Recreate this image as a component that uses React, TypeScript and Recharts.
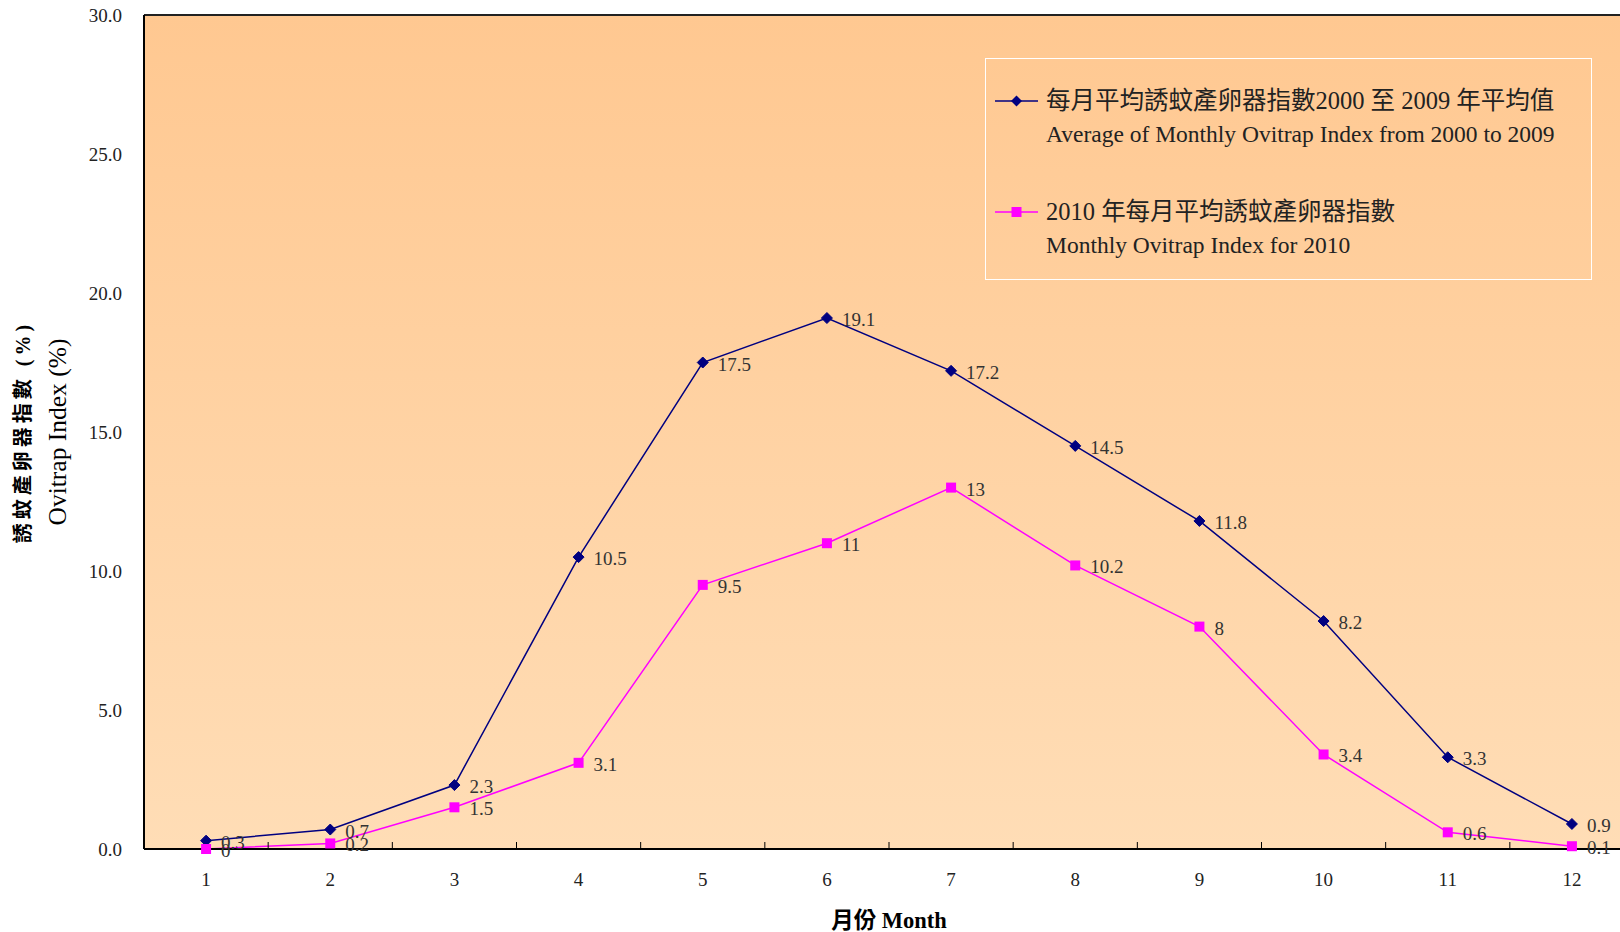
import React from 'react';
import { LineChart, Line, XAxis, YAxis, CartesianGrid, ReferenceLine, LabelList, Label } from 'recharts';

const months = [1, 2, 3, 4, 5, 6, 7, 8, 9, 10, 11, 12];
const avg2000to2009 = [0.3, 0.7, 2.3, 10.5, 17.5, 19.1, 17.2, 14.5, 11.8, 8.2, 3.3, 0.9];
const index2010 = [0, 0.2, 1.5, 3.1, 9.5, 11, 13, 10.2, 8, 3.4, 0.6, 0.1];
const yTicks = [0, 5, 10, 15, 20, 25, 30];
const monthBoundaries = [1.5, 2.5, 3.5, 4.5, 5.5, 6.5, 7.5, 8.5, 9.5, 10.5, 11.5, 12.5];
const seriesAvgZh = '每月平均誘蚊產卵器指數2000 至 2009 年平均值';
const seriesAvgEn = 'Average of Monthly Ovitrap Index from 2000 to 2009';
const series2010Zh = '2010 年每月平均誘蚊產卵器指數';
const series2010En = 'Monthly Ovitrap Index for 2010';
const yTitleZh = '誘蚊產卵器指數 (%)';
const yTitleEn = 'Ovitrap Index (%)';
const xTitle = '月份 Month';

const data = months.map((m, i) => ({ m, avg: avg2000to2009[i], y2010: index2010[i] }));
const xTicks = [...months, ...monthBoundaries].sort((a, b) => a - b);

const FONT = "'Liberation Serif', 'Noto Sans CJK TC', serif";
const NAVY = '#000080';
const MAGENTA = '#FF00FF';

const XTick = (props: any) => {
  const { x, y, payload } = props;
  const v = payload.value;
  if (Number.isInteger(v)) {
    return (
      <text x={x} y={y + 37} textAnchor="middle" fontFamily={FONT} fontSize={19} fill="#222">
        {v}
      </text>
    );
  }
  return <line x1={x} x2={x} y1={y} y2={y - 7} stroke="#000" strokeWidth={1} />;
};

const Diamond = (props: any) => {
  const { cx, cy, index } = props;
  if (cx == null || cy == null) return null;
  const r = 5.5;
  return (
    <polygon
      key={`d${index}`}
      points={`${cx},${cy - r} ${cx + r},${cy} ${cx},${cy + r} ${cx - r},${cy}`}
      fill={NAVY}
      stroke={NAVY}
    />
  );
};

const Square = (props: any) => {
  const { cx, cy, index } = props;
  if (cx == null || cy == null) return null;
  const s = 5;
  return <rect key={`s${index}`} x={cx - s} y={cy - s} width={2 * s} height={2 * s} fill={MAGENTA} />;
};

const ValueLabel = (props: any) => {
  const { x, y, value } = props;
  return (
    <text x={x + 15} y={y + 8} fontFamily={FONT} fontSize={19} fill="#333">
      {String(value)}
    </text>
  );
};

const YTitle = (props: any) => {
  const vb = props.viewBox || {};
  const cy = vb.y != null && vb.height != null ? vb.y + vb.height / 2 : 432;
  return (
    <g>
      <text
        x={23}
        y={cy}
        transform={`rotate(-90, 23, ${cy})`}
        textAnchor="middle"
        dominantBaseline="central"
        fontFamily={FONT}
        fontSize={20}
        fontWeight="bold"
        letterSpacing={4}
        fill="#000"
      >
        {yTitleZh}
      </text>
      <text
        x={57}
        y={cy}
        transform={`rotate(-90, 57, ${cy})`}
        textAnchor="middle"
        dominantBaseline="central"
        fontFamily={FONT}
        fontSize={25.5}
        fill="#000"
      >
        {yTitleEn}
      </text>
    </g>
  );
};

const XTitle = () => (
  <text x={889} y={928} textAnchor="middle" fontFamily={FONT} fontSize={22.5} fontWeight="bold" fill="#000">
    {xTitle}
  </text>
);

const LegendMarker = ({ kind }: { kind: 'diamond' | 'square' }) => (
  <svg width={43} height={14} style={{ position: 'absolute', left: 0, top: 0, overflow: 'visible' }}>
    <line x1={0} x2={43} y1={7} y2={7} stroke={kind === 'diamond' ? NAVY : MAGENTA} strokeWidth={1.5} />
    {kind === 'diamond' ? (
      <polygon points="21.5,1.5 27,7 21.5,12.5 16,7" fill={NAVY} />
    ) : (
      <rect x={16.5} y={2} width={10} height={10} fill={MAGENTA} />
    )}
  </svg>
);

const textLine = (top: number, text: string, size: number) => (
  <div
    style={{
      position: 'absolute',
      left: 60,
      top,
      height: 30,
      lineHeight: '30px',
      fontSize: size,
      fontFamily: FONT,
      color: '#222',
      whiteSpace: 'nowrap',
    }}
  >
    {text}
  </div>
);

export default function App() {
  return (
    <div style={{ position: 'fixed', left: 0, top: 0, width: 1620, height: 932, overflow: 'hidden', background: '#fff' }}>
      <LineChart width={1640} height={932} data={data} margin={{ top: 15, right: 6, bottom: 0, left: 0 }}>
        <defs>
          <linearGradient id="bgGrad" x1="0" y1="0" x2="0" y2="1">
            <stop offset="0" stopColor="#FFC891" />
            <stop offset="1" stopColor="#FFDDB6" />
          </linearGradient>
        </defs>
        <CartesianGrid horizontal={false} vertical={false} fill="url(#bgGrad)" stroke="none" />
        <XAxis
          dataKey="m"
          type="number"
          domain={[0.5, 12.5]}
          ticks={xTicks}
          interval={0}
          tickSize={0}
          tickMargin={0}
          tickLine={false}
          allowDataOverflow
          axisLine={{ stroke: '#000', strokeWidth: 2 }}
          height={83}
          tick={<XTick />}
        >
          <Label content={XTitle} />
        </XAxis>
        <YAxis
          type="number"
          domain={[0, 30]}
          ticks={yTicks}
          interval={0}
          width={144}
          tickLine={false}
          tickSize={0}
          tickMargin={22}
          axisLine={{ stroke: '#000', strokeWidth: 2 }}
          tickFormatter={(v: number) => v.toFixed(1)}
          tick={{ fill: '#222', fontSize: 19, fontFamily: FONT }}
        >
          <Label content={YTitle} />
        </YAxis>
        <ReferenceLine y={30} stroke="#222" strokeWidth={2} />
        <Line dataKey="avg" stroke={NAVY} strokeWidth={1.5} dot={Diamond} activeDot={false} isAnimationActive={false}>
          <LabelList dataKey="avg" content={ValueLabel} />
        </Line>
        <Line dataKey="y2010" stroke={MAGENTA} strokeWidth={1.5} dot={Square} activeDot={false} isAnimationActive={false}>
          <LabelList dataKey="y2010" content={ValueLabel} />
        </Line>
      </LineChart>
      <div
        style={{
          position: 'absolute',
          left: 985,
          top: 58,
          width: 605,
          height: 220,
          border: '1.5px solid #fff',
        }}
      >
        <div style={{ position: 'absolute', left: 9, top: 35 }}>
          <LegendMarker kind="diamond" />
        </div>
        {textLine(27, seriesAvgZh, 24.5)}
        {textLine(60, seriesAvgEn, 23.5)}
        <div style={{ position: 'absolute', left: 9, top: 146 }}>
          <LegendMarker kind="square" />
        </div>
        {textLine(138, series2010Zh, 24.5)}
        {textLine(171, series2010En, 23.5)}
      </div>
    </div>
  );
}
